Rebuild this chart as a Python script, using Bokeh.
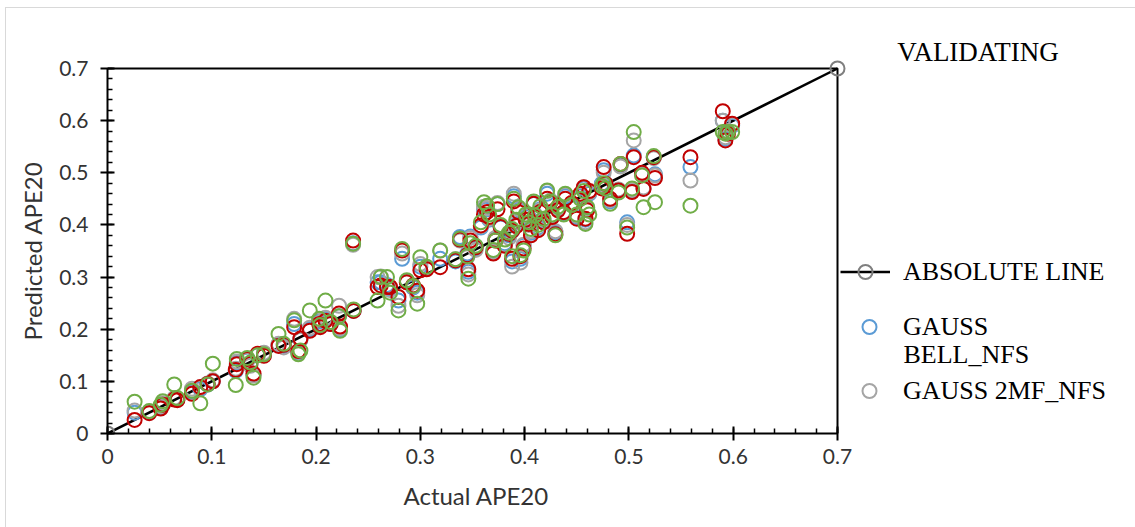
import numpy as np
from bokeh.plotting import figure
from bokeh.models import (Range1d, FixedTicker, NumeralTickFormatter, Legend, LegendItem,
                          Label, Title)
from bokeh.embed import file_html
from bokeh.resources import INLINE

# ---------------- data ----------------
abs_x = [0.0, 0.7]
abs_y = [0.0, 0.7]

actual = [0.026, 0.040, 0.051, 0.053, 0.064, 0.067, 0.081, 0.089, 0.096, 0.101,
          0.123, 0.124, 0.134, 0.137, 0.140, 0.144, 0.150, 0.164, 0.169, 0.179,
          0.185, 0.183, 0.194, 0.203, 0.204, 0.209, 0.214, 0.222, 0.223, 0.2355,
          0.236, 0.259, 0.262, 0.268, 0.271, 0.279, 0.2825, 0.287, 0.293, 0.297,
          0.300, 0.306, 0.319, 0.3337, 0.338, 0.345, 0.346, 0.348, 0.353, 0.358,
          0.361, 0.364, 0.366, 0.370, 0.372, 0.374, 0.377, 0.381, 0.385, 0.388,
          0.388, 0.3896, 0.392, 0.394, 0.396, 0.399, 0.401, 0.404, 0.406, 0.4087,
          0.410, 0.413, 0.415, 0.418, 0.4216, 0.4247, 0.4264, 0.4295, 0.432, 0.4375,
          0.439, 0.445, 0.450, 0.4535, 0.4567, 0.4583, 0.460, 0.462, 0.474, 0.4758,
          0.4775, 0.482, 0.490, 0.492, 0.4983, 0.503, 0.5046, 0.5126, 0.514, 0.5238,
          0.525, 0.559, 0.590, 0.5925, 0.595, 0.599]

pred_bell = [0.040, 0.040, 0.050, 0.056, 0.066, 0.065, 0.080, 0.085, 0.094, 0.100,
             0.120, 0.135, 0.140, 0.132, 0.112, 0.150, 0.150, 0.170, 0.168, 0.210,
             0.180, 0.155, 0.200, 0.215, 0.205, 0.220, 0.210, 0.225, 0.200, 0.365,
             0.235, 0.290, 0.290, 0.285, 0.278, 0.255, 0.335, 0.292, 0.280, 0.270,
             0.320, 0.318, 0.335, 0.330, 0.377, 0.345, 0.310, 0.378, 0.355, 0.395,
             0.430, 0.430, 0.410, 0.350, 0.372, 0.440, 0.395, 0.365, 0.380, 0.388,
             0.330, 0.455, 0.400, 0.430, 0.335, 0.360, 0.415, 0.402, 0.385, 0.440,
             0.418, 0.395, 0.430, 0.408, 0.460, 0.445, 0.415, 0.385, 0.430, 0.422,
             0.455, 0.440, 0.415, 0.455, 0.470, 0.410, 0.432, 0.460, 0.479, 0.505,
             0.479, 0.445, 0.466, 0.515, 0.405, 0.465, 0.533, 0.498, 0.470, 0.530,
             0.497, 0.511, 0.600, 0.565, 0.578, 0.590]

pred_2mf = [0.044, 0.042, 0.052, 0.058, 0.068, 0.066, 0.086, 0.088, 0.096, 0.102,
            0.124, 0.138, 0.141, 0.130, 0.111, 0.151, 0.155, 0.172, 0.165, 0.220,
            0.180, 0.157, 0.203, 0.218, 0.206, 0.222, 0.212, 0.245, 0.202, 0.362,
            0.237, 0.300, 0.301, 0.282, 0.275, 0.245, 0.345, 0.290, 0.282, 0.265,
            0.325, 0.319, 0.351, 0.334, 0.370, 0.338, 0.305, 0.375, 0.352, 0.398,
            0.435, 0.432, 0.412, 0.348, 0.375, 0.442, 0.398, 0.362, 0.375, 0.390,
            0.320, 0.460, 0.405, 0.432, 0.328, 0.362, 0.418, 0.400, 0.388, 0.442,
            0.420, 0.392, 0.428, 0.410, 0.465, 0.447, 0.418, 0.388, 0.432, 0.425,
            0.458, 0.438, 0.418, 0.458, 0.472, 0.405, 0.430, 0.462, 0.476, 0.500,
            0.478, 0.448, 0.468, 0.512, 0.400, 0.467, 0.562, 0.496, 0.472, 0.528,
            0.495, 0.485, 0.600, 0.568, 0.580, 0.592]

pred_series3 = [0.026, 0.039, 0.048, 0.055, 0.065, 0.064, 0.076, 0.089, 0.095, 0.100,
                0.122, 0.133, 0.143, 0.134, 0.115, 0.153, 0.149, 0.168, 0.170, 0.204,
                0.182, 0.158, 0.197, 0.210, 0.204, 0.216, 0.210, 0.230, 0.205, 0.370,
                0.235, 0.281, 0.284, 0.281, 0.281, 0.262, 0.351, 0.290, 0.284, 0.274,
                0.313, 0.315, 0.319, 0.332, 0.372, 0.342, 0.315, 0.370, 0.357, 0.399,
                0.420, 0.425, 0.415, 0.345, 0.370, 0.430, 0.396, 0.360, 0.383, 0.389,
                0.335, 0.445, 0.398, 0.425, 0.340, 0.355, 0.410, 0.402, 0.380, 0.4405,
                0.415, 0.390, 0.425, 0.405, 0.450, 0.4436, 0.415, 0.382, 0.428, 0.4245,
                0.450, 0.442, 0.412, 0.460, 0.4725, 0.412, 0.428, 0.465, 0.470, 0.511,
                0.479, 0.450, 0.466, 0.517, 0.383, 0.463, 0.530, 0.500, 0.469, 0.530,
                0.490, 0.530, 0.618, 0.562, 0.575, 0.594]

pred_series4 = [0.061, 0.043, 0.055, 0.062, 0.094, 0.068, 0.082, 0.058, 0.094, 0.134,
                0.093, 0.143, 0.145, 0.136, 0.107, 0.150, 0.152, 0.191, 0.172, 0.217,
                0.159, 0.152, 0.236, 0.220, 0.208, 0.255, 0.214, 0.225, 0.197, 0.364,
                0.238, 0.255, 0.300, 0.300, 0.270, 0.236, 0.354, 0.294, 0.283, 0.249,
                0.338, 0.320, 0.351, 0.334, 0.374, 0.340, 0.297, 0.365, 0.360, 0.405,
                0.4436, 0.437, 0.420, 0.352, 0.370, 0.440, 0.400, 0.372, 0.385, 0.392,
                0.340, 0.450, 0.410, 0.434, 0.342, 0.351, 0.420, 0.405, 0.392, 0.445,
                0.418, 0.400, 0.436, 0.412, 0.466, 0.445, 0.420, 0.380, 0.435, 0.420,
                0.460, 0.438, 0.420, 0.450, 0.465, 0.402, 0.434, 0.420, 0.474, 0.480,
                0.470, 0.4405, 0.462, 0.517, 0.395, 0.470, 0.578, 0.495, 0.434, 0.532,
                0.4436, 0.437, 0.578, 0.575, 0.578, 0.578]

x_ticks = [0, 0.1, 0.2, 0.3, 0.4, 0.5, 0.6, 0.7]
y_ticks = [0, 0.1, 0.2, 0.3, 0.4, 0.5, 0.6, 0.7]
axis_max = 0.7

# ---------------- layout (pixels) ----------------
FIG_W, FIG_H = 1129, 519
LEFT, TOP, RIGHT, BOTTOM = 101, 2, 10, 94
frame_w = FIG_W - LEFT - RIGHT
frame_h = FIG_H - TOP - BOTTOM
plot_w, plot_h = 730, 365  # pixels spanned by 0..0.7 on each axis

p = figure(width=FIG_W, height=FIG_H,
           x_range=Range1d(0, axis_max * frame_w / plot_w),
           y_range=Range1d(0, axis_max * frame_h / plot_h),
           output_backend="svg", toolbar_location=None,
           min_border_left=LEFT, min_border_right=RIGHT,
           min_border_top=TOP, min_border_bottom=BOTTOM)
p.styles = {"outline": "1px solid #d9d9d9", "margin-left": "6px", "margin-top": "8px"}
p.grid.visible = False
p.outline_line_color = None

minor = [round(v, 2) for v in np.arange(0, axis_max + 0.0001, 0.02)]
for ax, tk in ((p.xaxis[0], x_ticks), (p.yaxis[0], y_ticks)):
    ax.bounds = (0, axis_max)
    ax.ticker = FixedTicker(ticks=tk, minor_ticks=minor)
    ax.formatter = NumeralTickFormatter(format="0.[0]")
    ax.axis_line_color = "black"
    ax.axis_line_width = 2
    ax.major_tick_line_width = 2
    ax.major_tick_line_color = "black"
    ax.minor_tick_line_width = 1.5
    ax.minor_tick_line_color = "black"
    ax.major_tick_in = 7
    ax.major_tick_out = 7
    ax.minor_tick_in = 5
    ax.minor_tick_out = 0
    ax.major_label_text_font = "Lato"
    ax.major_label_text_font_size = "21px"
    ax.major_label_text_color = "#333333"

p.xaxis.major_label_standoff = 8
p.yaxis.major_label_standoff = 12

# axis titles, placed along the 0..0.7 part of each axis
ttl_kw = dict(text_font="Lato", text_font_size="24px", text_font_style="normal",
              text_color="#333333", align="left")
p.add_layout(Title(text="Actual APE20", offset=296, standoff=25, **ttl_kw), "below")
p.add_layout(Title(text="Predicted APE20", offset=93, standoff=19, **ttl_kw), "left")

# plot-area border (top and right)
p.line([0, axis_max, axis_max], [axis_max, axis_max, 0], line_color="black", line_width=2)

line_r = p.line(abs_x, abs_y, line_color="black", line_width=2.5)
end_r = p.scatter(abs_x, abs_y, marker="circle", size=14, fill_color=None,
                  line_color="#7f7f7f", line_width=2)

kw = dict(marker="circle", size=14, fill_color=None, line_width=2)
r_bell = p.scatter(actual, pred_bell, line_color="#5b9bd5", **kw)
r_2mf = p.scatter(actual, pred_2mf, line_color="#a5a5a5", **kw)
r_s3 = p.scatter(actual, pred_series3, line_color="#c00000", **kw)
r_s4 = p.scatter(actual, pred_series4, line_color="#70ad47", **kw)

leg_kw = dict(border_line_color=None, background_fill_alpha=0, padding=0, margin=0,
              glyph_width=50, glyph_height=35, label_text_font="Liberation Serif",
              label_text_font_size="26px", label_text_color="black")

leg1 = Legend(items=[LegendItem(label="ABSOLUTE LINE", renderers=[line_r, end_r])],
              location=(733, 144), label_standoff=13, **leg_kw)
leg2 = Legend(items=[LegendItem(label="GAUSS", renderers=[r_bell])],
              location=(737, 89), label_standoff=9, **leg_kw)
leg3 = Legend(items=[LegendItem(label="GAUSS 2MF_NFS", renderers=[r_2mf])],
              location=(737, 25), label_standoff=9, **leg_kw)
for lg in (leg1, leg2, leg3):
    p.add_layout(lg)

# second line of the wrapped legend label "GAUSS BELL_NFS"
p.add_layout(Label(x=0.7632, y=0.1515, text="BELL_NFS", text_font="Liberation Serif",
                   text_font_size="26px", text_baseline="middle", text_color="black"))

p.add_layout(Label(x=0.7574, y=0.7307, text="VALIDATING", text_font="Liberation Serif",
                   text_font_size="27px", text_baseline="middle", text_color="black"))

open("out.html", "w").write(file_html(p, INLINE))
